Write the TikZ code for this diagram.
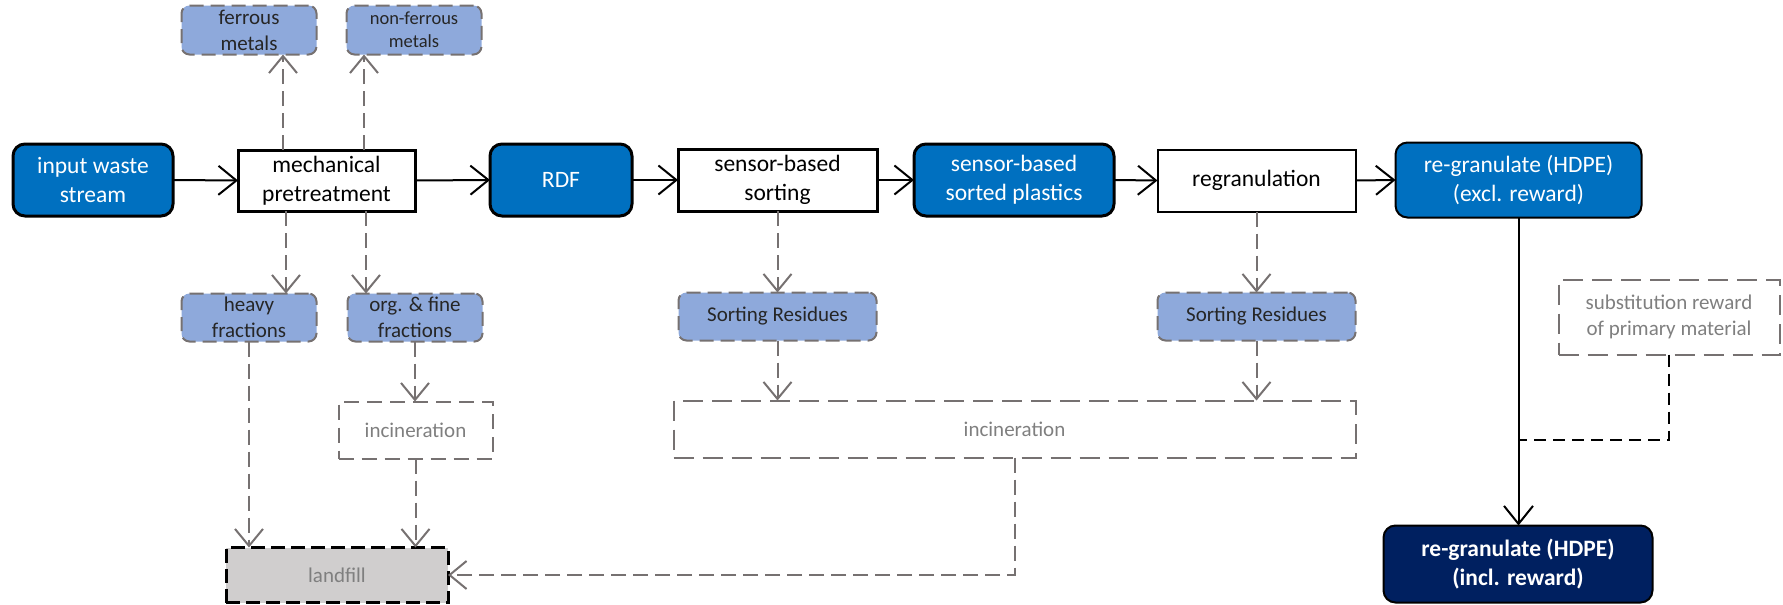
\documentclass[tikz,border=0pt]{standalone}
\usepackage{fontspec}
\setmainfont{Carlito}
\usetikzlibrary{arrows.meta}

\definecolor{mainblue}{HTML}{0070C0}
\definecolor{lightblue}{HTML}{8EA9DB}
\definecolor{navyblue}{HTML}{002060}
\definecolor{dashgray}{HTML}{767171}
\definecolor{fillgray}{HTML}{D0CECE}
\definecolor{textgray}{HTML}{7F7F7F}
\definecolor{darktext}{HTML}{262626}

\newcommand\mainfs{\fontsize{11.75}{14.3}\selectfont}
\newcommand\smallfs{\fontsize{10.5}{12.9}\selectfont}
\newcommand\tinyfs{\fontsize{9.25}{11.4}\selectfont}

\tikzset{
  base/.style={align=center, inner sep=0pt, outer sep=0pt},
  sz/.style 2 args={minimum width=#1, minimum height=#2},
  proc/.style={base, draw=black, fill=white, text=black, line width=1.5pt, font=\mainfs},
  flow/.style={base, draw=black, fill=mainblue, text=white, rounded corners=6pt, line width=1.5pt, font=\mainfs},
  frac/.style={base, draw=dashgray, fill=lightblue, text=darktext, rounded corners=4pt,
               line width=1pt, dash pattern=on 7pt off 3.5pt, font=\smallfs},
  sink/.style={base, draw=dashgray, text=textgray, line width=1pt,
               dash pattern=on 10pt off 4.5pt, font=\smallfs},
  mainarrow/.style={draw=black, line width=1pt, -{Straight Barb[length=9pt,width=14.5pt]}},
  sidearrow/.style={draw=dashgray, line width=1pt, dash pattern=on 7.5pt off 3.5pt,
                    -{Straight Barb[length=8.5pt,width=14pt]}},
  rewardline/.style={draw=black, line width=1pt, dash pattern=on 6pt off 3.5pt},
}

\begin{document}
\begin{tikzpicture}[x=0.5pt,y=-0.5pt]
\useasboundingbox (0,0) rectangle (1783,605);

% main process chain
\node[flow, sz={80pt}{36pt}]   (in)    at (93,180)     {input waste\\stream};
\node[proc, sz={88.5pt}{30.5pt}] (mech) at (326.5,180.5) {mechanical\\pretreatment};
\node[flow, sz={71pt}{36pt}]   (rdf)   at (561,180)    {RDF};
\node[proc, sz={99.5pt}{31pt}] (sbs)   at (777.5,180)  {sensor-based\\sorting};
\node[flow, sz={100pt}{36pt}]  (sorted) at (1014,180)  {sensor-based\\sorted plastics};
\node[proc, line width=1pt, sz={99pt}{31pt}] (regran) at (1256.5,180.5) {regranulation};
\node[flow, line width=1pt, sz={123pt}{37.5pt}] (excl) at (1518.5,180) {re-granulate (HDPE)\\(excl. reward)};
\node[flow, line width=1pt, fill=navyblue, sz={134.5pt}{38.5pt}, font=\mainfs\bfseries] (incl) at (1518,564)
  {re-granulate (HDPE)\\(incl. reward)};

% separated fractions
\node[frac, sz={67.5pt}{24.5pt}] (ferr)  at (249,30)   {ferrous\\metals};
\node[frac, sz={67.5pt}{24.5pt}, font=\tinyfs] (nonf) at (414,30) {non-ferrous\\metals};
\node[frac, sz={67.5pt}{24pt}]   (heavy) at (249,317.5) {heavy\\fractions};
\node[frac, sz={67.5pt}{24pt}]   (org)   at (415,317.5) {org. \& fine\\fractions};
\node[frac, sz={99pt}{24pt}]     (res1)  at (777.5,316.5) {Sorting Residues};
\node[frac, sz={99pt}{24pt}]     (res2)  at (1256.5,316.5) {Sorting Residues};

% end-of-life treatment
\node[sink, dash pattern=on 7.5pt off 4pt, sz={77pt}{28.5pt}] (inc1) at (415.5,430) {incineration};
\node[sink, sz={341pt}{28.5pt}] (inc2) at (1014.5,429) {incineration};
\node[sink, fill=fillgray, draw=black, line width=1.5pt, dash pattern=on 7pt off 3pt,
      sz={111pt}{27.5pt}] (land) at (337,575) {landfill};
\node[sink, sz={110.5pt}{37.5pt}] (subst) at (1669,317) {substitution reward\\of primary material};

% main flow
\draw[mainarrow] (in.east) -- (mech.west);
\draw[mainarrow] (mech.east) -- (rdf.west);
\draw[mainarrow] (rdf.east) -- (sbs.west);
\draw[mainarrow] (sbs.east) -- (sorted.west);
\draw[mainarrow] (sorted.east) -- (regran.west);
\draw[mainarrow] (regran.east) -- (excl.west);
\draw[mainarrow] (excl.south) -- (excl.south |- incl.north);

% substitution reward joining the main line
\coordinate (merge) at (1518.5,440);
\draw[rewardline] (subst.south) |- (merge);

% side streams of the pretreatment
\coordinate (xfe) at (283,0);
\coordinate (xnf) at (364,0);
\coordinate (xhv) at (286,0);
\coordinate (xog) at (366,0);
\draw[sidearrow] (xfe |- mech.north) -- (xfe |- ferr.south);
\draw[sidearrow] (xnf |- mech.north) -- (xnf |- nonf.south);
\draw[sidearrow] (xhv |- mech.south) -- (xhv |- heavy.north);
\draw[sidearrow] (xog |- mech.south) -- (xog |- org.north);

% residues
\draw[sidearrow] (sbs.south) -- (sbs.south |- res1.north);
\draw[sidearrow] (regran.south) -- (regran.south |- res2.north);
\draw[sidearrow] (res1.south) -- (res1.south |- inc2.north);
\draw[sidearrow] (res2.south) -- (res2.south |- inc2.north);
\draw[sidearrow] (org.south) -- (org.south |- inc1.north);

% to landfill
\draw[sidearrow] (heavy.south) -- (heavy.south |- land.north);
\draw[sidearrow] (inc1.south) -- (inc1.south |- land.north);
\draw[sidearrow] (inc2.south) |- (land.east);
\end{tikzpicture}
\end{document}
